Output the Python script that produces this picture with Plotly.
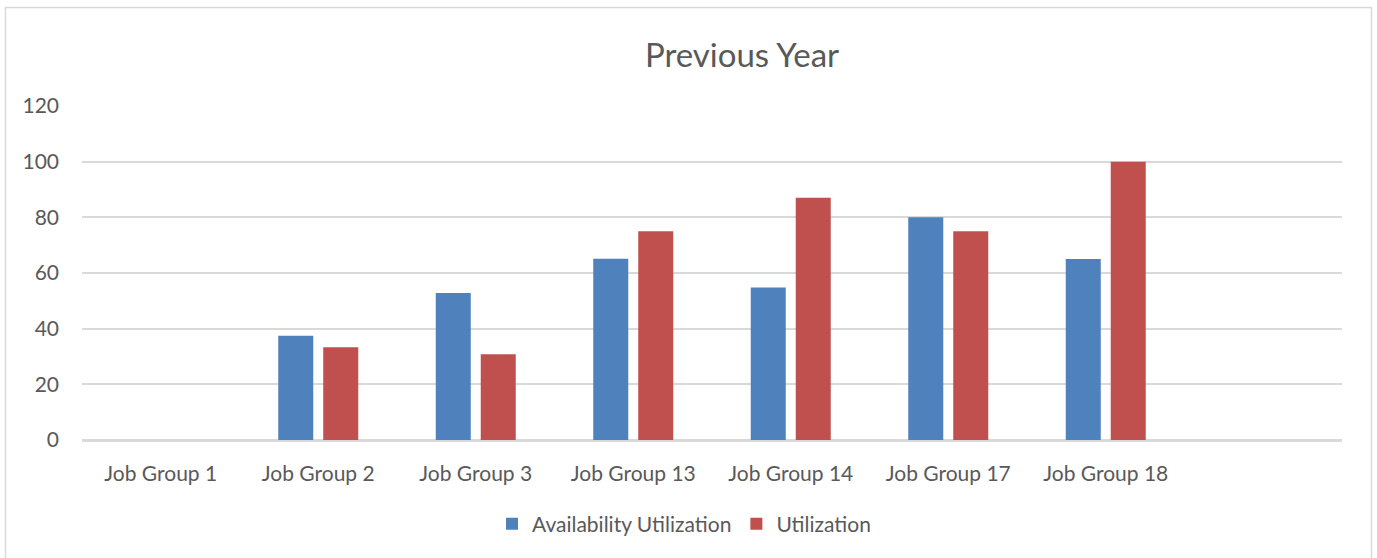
import plotly.graph_objects as go

categories = ["Job Group 1", "Job Group 2", "Job Group 3", "Job Group 13",
              "Job Group 14", "Job Group 17", "Job Group 18"]
availability = [0, 37.5, 52.8, 65.1, 54.8, 80, 65]
utilization = [0, 33.3, 30.8, 75, 87, 75, 100]
y_ticks = [0, 20, 40, 60, 80, 100, 120]

W, H = 1377, 558
L, R, T, B = 82, 35, 106, 118
pw, ph = W - L - R, H - T - B

font_family = "Lato, 'Open Sans', sans-serif"
txt = "#595959"

fig = go.Figure()
fig.add_trace(go.Bar(name="Availability Utilization", x=categories, y=availability,
                     marker=dict(color="#4F81BD", line=dict(width=0))))
fig.add_trace(go.Bar(name="Utilization", x=categories, y=utilization,
                     marker=dict(color="#C0504D", line=dict(width=0))))

def px_x(p):
    return (p - L) / pw

def px_y(p):
    return (H - B - p) / ph

fig.update_layout(
    width=W, height=H,
    margin=dict(l=L, r=R, t=T, b=B),
    paper_bgcolor="white", plot_bgcolor="white",
    barmode="group", bargap=0.4286, bargroupgap=0.222,
    font=dict(family=font_family, color=txt, size=21),
    title=dict(text="Previous Year", x=742 / W, xref="container", xanchor="center",
               y=1 - 55 / H, yref="container", yanchor="middle",
               font=dict(size=33, color=txt, family=font_family)),
    xaxis=dict(range=[-0.5, 7.5], showgrid=False, showline=True, linecolor="#D9D9D9",
               linewidth=2, ticks="", ticklabelstandoff=14,
               tickfont=dict(size=21, color=txt), fixedrange=True),
    yaxis=dict(range=[0, 120], tickvals=y_ticks, showgrid=True, gridcolor="#D9D9D9",
               gridwidth=2, zeroline=True, zerolinecolor="#D9D9D9", zerolinewidth=2,
               showline=False, ticks="", ticklabelstandoff=22,
               tickfont=dict(size=21, color=txt), fixedrange=True),
    legend=dict(orientation="h", x=684 / W, xref="container", xanchor="center",
                y=1 - 524 / H, yref="container", yanchor="middle",
                font=dict(size=21, color=txt), itemwidth=30, traceorder="normal"),
    shapes=[dict(type="rect", xref="paper", yref="paper",
                 x0=px_x(5.5), x1=px_x(1371.5), y0=px_y(570), y1=px_y(7.5),
                 line=dict(color="#D9D9D9", width=1.5), layer="below")],
    showlegend=True,
)

fig.write_html("out.html", config={"displayModeBar": False},
               post_script="document.body.style.margin='0';document.body.style.padding='0';")
